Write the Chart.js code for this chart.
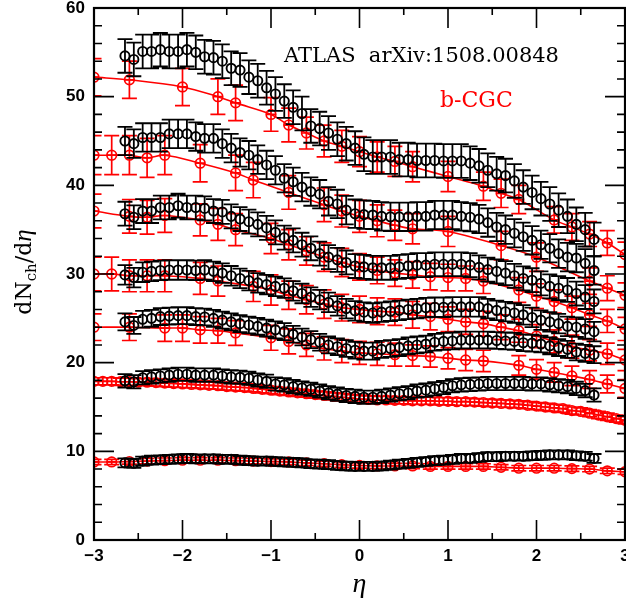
<!DOCTYPE html>
<html><head><meta charset="utf-8">
<script src="https://cdn.jsdelivr.net/npm/chart.js@4/dist/chart.umd.min.js"></script>
<style>html,body{margin:0;padding:0;background:#fff}#wrap{width:626px;height:605px}</style>
</head><body><div id="wrap"><canvas id="c" width="626" height="605"></canvas></div>
<script>
// ---------- DATA ----------
const xTickLabels = [-3, -2, -1, 0, 1, 2, 3];
const yTickLabels = [0, 10, 20, 30, 40, 50, 60];

// ATLAS measurement: pseudorapidity bin centres
const etaATLAS = [-2.65,-2.55,-2.45,-2.35,-2.25,-2.15,-2.05,-1.95,-1.85,-1.75,-1.65,-1.55,-1.45,-1.35,-1.25,-1.15,-1.05,-0.95,-0.85,-0.75,-0.65,-0.55,-0.45,-0.35,-0.25,-0.15,-0.05,
  0.05,0.15,0.25,0.35,0.45,0.55,0.65,0.75,0.85,0.95,1.05,1.15,1.25,1.35,1.45,1.55,1.65,1.75,1.85,1.95,2.05,2.15,2.25,2.35,2.45,2.55,2.65];

const atlas1 = [54.6,54.2,55.1,55.1,55.3,55.1,55.1,55.3,55.0,54.5,54.4,54.0,53.2,53.0,52.2,51.8,51.0,50.3,49.5,48.8,48.1,46.7,46.4,45.9,45.2,44.7,44.2,
  43.5,43.2,43.2,43.2,42.9,42.9,42.8,42.8,42.8,42.75,42.75,42.75,42.5,42.2,41.7,41.3,41.1,40.5,39.8,39.2,38.5,37.9,37.2,36.5,35.6,35.0,33.9];
const atlas2 = [45.0,44.7,45.4,45.4,45.4,45.8,45.8,45.8,45.5,45.3,45.3,44.7,44.2,43.7,43.4,42.9,42.3,41.7,40.8,40.4,39.8,39.3,39.0,38.2,37.9,37.2,36.8,
  36.7,36.65,36.5,36.45,36.45,36.45,36.5,36.5,36.65,36.65,36.65,36.5,36.4,36.2,35.8,35.3,35.0,34.6,34.2,33.8,33.3,32.9,32.3,31.9,31.8,31.2,30.4];
const atlas3 = [36.8,36.4,37.1,37.1,37.5,37.5,37.7,37.5,37.5,37.4,37.1,37.0,36.5,36.2,35.9,35.6,35.2,34.7,34.1,33.8,33.3,32.9,32.3,31.9,31.6,31.3,30.9,
  30.8,30.7,30.7,30.7,30.8,30.9,31.0,31.0,31.1,31.1,31.1,31.1,31.0,30.75,30.5,30.3,30.1,29.8,29.5,29.3,28.95,28.6,28.4,28.2,27.8,27.4,26.9];
const atlas4 = [29.9,29.6,30.2,30.3,30.4,30.45,30.45,30.45,30.4,30.45,30.3,30.1,29.8,29.5,29.25,29.0,28.8,28.6,28.4,28.1,27.8,27.4,27.1,26.8,26.4,26.1,25.85,
  25.7,25.6,25.7,25.8,25.9,26.0,26.1,26.2,26.25,26.25,26.3,26.3,26.3,26.3,26.1,25.9,25.75,25.6,25.4,25.1,24.8,24.6,24.4,24.1,24.0,23.8,23.5];
const atlas5 = [24.6,24.2,24.9,25.0,25.2,25.25,25.3,25.3,25.2,25.15,25.0,24.8,24.6,24.4,24.25,24.1,23.9,23.7,23.5,23.2,22.9,22.6,22.3,22.0,21.8,21.6,21.4,
  21.3,21.3,21.5,21.6,21.7,21.9,22.0,22.1,22.3,22.4,22.45,22.55,22.55,22.55,22.55,22.5,22.45,22.4,22.25,22.2,22.1,21.9,21.7,21.5,21.2,21.05,20.9];
const atlas6 = [17.95,17.85,18.3,18.4,18.5,18.6,18.7,18.7,18.6,18.6,18.6,18.5,18.4,18.35,18.25,18.05,17.9,17.6,17.5,17.3,17.15,17.0,16.8,16.6,16.45,16.3,16.2,
  16.1,16.1,16.2,16.35,16.5,16.6,16.8,16.9,17.05,17.2,17.4,17.5,17.55,17.6,17.65,17.65,17.65,17.65,17.65,17.6,17.6,17.5,17.4,17.3,17.1,16.85,16.35];
const atlas7 = [8.7,8.65,8.9,9.0,9.05,9.1,9.15,9.2,9.15,9.15,9.15,9.1,9.1,9.0,8.95,8.9,8.9,8.85,8.8,8.75,8.7,8.6,8.55,8.5,8.4,8.35,8.3,
  8.3,8.3,8.35,8.45,8.55,8.65,8.75,8.85,8.95,9.0,9.1,9.2,9.2,9.3,9.4,9.4,9.45,9.45,9.45,9.5,9.55,9.6,9.6,9.6,9.5,9.45,9.2];
// typical ATLAS uncertainty per set
const atlasErr = [1.9, 1.6, 1.35, 1.1, 0.95, 0.75, 0.5];

// b-CGC calculation: [eta, dNch/deta, uncertainty]
const cgc1 = [[-3.0,52.2,2.1],[-2.6,51.9,2.1],[-2.0,51.1,2.1],[-1.6,50.0,2.0],[-1.4,49.3,2.0],[-1.0,48.0,1.9],[-0.8,46.8,1.9],[-0.6,45.9,1.8],[-0.4,45.0,1.8],[-0.2,44.4,1.8],[0.0,43.8,1.7],[0.2,43.2,1.7],[0.4,42.7,1.7],[0.6,42.1,1.7],[1.0,41.0,1.7],[1.4,39.9,1.6],[1.6,39.1,1.6],[1.8,38.4,1.6],[2.2,36.1,1.5],[2.4,35.3,1.5],[2.6,34.5,1.4],[2.8,33.5,1.4],[3.0,32.2,1.4]];
const cgc2 = [[-3.0,43.4,2.2],[-2.8,43.4,2.2],[-2.6,43.4,2.2],[-2.4,43.1,2.2],[-2.2,43.4,2.2],[-1.8,42.5,2.1],[-1.4,41.4,2.0],[-1.2,40.6,2.0],[-0.8,39.2,1.9],[-0.4,37.8,1.9],[-0.2,37.1,1.8],[0.0,36.5,1.8],[0.2,36.0,1.8],[0.4,35.5,1.7],[0.6,35.1,1.7],[1.0,34.8,1.7],[1.6,33.2,1.6],[2.0,31.9,1.6],[2.6,29.2,1.5],[2.8,28.4,1.4],[3.0,27.6,1.4]];
const cgc3 = [[-3.0,37.1,1.9],[-2.6,36.5,1.9],[-2.4,36.4,1.9],[-2.2,36.6,1.9],[-1.8,36.1,1.8],[-1.6,35.6,1.8],[-1.4,35.0,1.8],[-1.0,34.0,1.7],[-0.8,33.3,1.7],[-0.6,32.6,1.6],[-0.4,31.9,1.6],[-0.2,31.3,1.6],[0.0,30.8,1.5],[0.2,30.4,1.5],[0.4,30.1,1.5],[0.6,29.9,1.5],[0.8,29.7,1.5],[1.0,29.6,1.5],[1.2,29.5,1.4],[1.4,29.2,1.4],[1.8,28.2,1.4],[2.0,27.5,1.4],[2.2,26.9,1.3],[2.4,26.2,1.3],[2.6,25.4,1.3],[2.8,24.7,1.3],[3.0,23.8,1.3]];
const cgc4 = [[-3.0,30.0,1.9],[-2.8,30.0,1.9],[-2.6,29.8,1.8],[-2.4,29.8,1.8],[-2.2,29.8,1.8],[-1.8,29.5,1.8],[-1.6,29.2,1.7],[-1.2,28.6,1.7],[-1.0,28.2,1.7],[-0.8,27.6,1.6],[-0.6,27.1,1.6],[-0.4,26.6,1.6],[-0.2,26.2,1.5],[0.0,26.0,1.5],[0.2,25.8,1.5],[0.4,25.7,1.5],[0.6,25.4,1.5],[0.8,25.2,1.5],[1.0,24.9,1.4],[1.2,24.6,1.4],[1.4,24.4,1.4],[1.6,24.0,1.4],[1.8,23.6,1.3],[2.0,23.0,1.3],[2.2,22.4,1.3],[2.4,21.8,1.3],[2.6,21.4,1.2],[2.8,21.0,1.2],[3.0,20.3,1.2]];
const cgc5 = [[-3.0,24.0,1.5],[-2.6,24.0,1.5],[-2.2,23.9,1.5],[-2.0,23.9,1.5],[-1.8,23.7,1.5],[-1.6,23.6,1.4],[-1.4,23.35,1.4],[-1.0,22.8,1.4],[-0.8,22.4,1.4],[-0.6,22.0,1.3],[-0.4,21.6,1.3],[-0.2,21.3,1.3],[0.0,21.1,1.3],[0.2,21.0,1.3],[0.4,20.9,1.3],[0.6,20.8,1.2],[0.8,20.7,1.2],[1.0,20.5,1.2],[1.2,20.3,1.2],[1.4,20.2,1.2],[1.8,19.7,1.1],[2.0,19.25,1.1],[2.2,18.9,1.1],[2.4,18.5,1.1],[2.6,18.1,1.0],[2.8,17.6,1.0],[3.0,17.1,1.0]];
const etaCGC6 = [-3.0,-2.9,-2.8,-2.7,-2.6,-2.5,-2.4,-2.3,-2.2,-2.1,-2.0,-1.9,-1.8,-1.7,-1.6,-1.5,-1.4,-1.3,-1.2,-1.1,-1.0,-0.9,-0.8,-0.7,-0.6,-0.5,-0.4,-0.3,-0.2,-0.1,0.0,
  0.1,0.2,0.3,0.4,0.5,0.6,0.7,0.8,0.9,1.0,1.1,1.2,1.3,1.4,1.5,1.6,1.7,1.8,1.9,2.0,2.1,2.2,2.3,2.4,2.5,2.6,2.7,2.8,2.9,3.0];
const cgc6 = [17.9,17.9,17.9,17.85,17.85,17.8,17.8,17.75,17.7,17.65,17.6,17.55,17.5,17.45,17.4,17.3,17.25,17.2,17.1,17.0,16.9,
  16.8,16.7,16.6,16.5,16.4,16.3,16.2,16.1,16.0,15.9,15.85,15.8,15.8,15.75,15.75,15.7,15.7,15.7,15.65,15.65,
  15.6,15.6,15.55,15.5,15.45,15.4,15.35,15.3,15.2,15.1,15.0,14.9,14.8,14.6,14.5,14.3,14.1,13.9,13.7,13.5];
const cgc6Err = 0.4;
const etaCGC7 = [-3.0,-2.8,-2.6,-2.4,-2.2,-2.0,-1.8,-1.6,-1.4,-1.2,-1.0,-0.8,-0.6,-0.4,-0.2,0.0,0.2,0.4,0.6,0.8,1.0,1.2,1.4,1.6,1.8,2.0,2.2,2.4,2.6,2.8,3.0];
const cgc7 = [8.8,8.8,8.85,8.9,8.95,9.0,9.0,9.0,8.95,8.9,8.85,8.8,8.7,8.6,8.5,8.4,8.35,8.35,8.35,8.3,8.3,8.3,8.3,8.2,8.1,8.1,8.1,8.05,8.0,7.8,7.7];
const cgc7Err = 0.3;

// ---------- BUILD DATASETS ----------
const BLACK = '#000000', RED = '#ff0000';
const atlasSets = [atlas1, atlas2, atlas3, atlas4, atlas5, atlas6, atlas7];
const datasets = [];
atlasSets.forEach((vals, k) => {
  datasets.push({
    label: 'ATLAS ' + (k + 1),
    data: vals.map((v, i) => ({x: etaATLAS[i], y: v})),
    errs: vals.map(() => atlasErr[k]),
    showLine: false,
    pointRadius: 4.6, pointBorderWidth: 1.9,
    pointBorderColor: BLACK, pointBackgroundColor: 'rgba(0,0,0,0)',
    borderColor: BLACK, capHalf: 7.5, errWidth: 1.8, clip: 0
  });
});
const cgcTriples = [cgc1, cgc2, cgc3, cgc4, cgc5];
const cgcSets = cgcTriples.map(t => ({pts: t.map(p => ({x: p[0], y: p[1]})), errs: t.map(p => p[2])}));
cgcSets.push({pts: cgc6.map((v, i) => ({x: etaCGC6[i], y: v})), errs: cgc6.map(() => cgc6Err)});
cgcSets.push({pts: cgc7.map((v, i) => ({x: etaCGC7[i], y: v})), errs: cgc7.map(() => cgc7Err)});
cgcSets.forEach((s, k) => {
  datasets.push({
    label: 'b-CGC ' + (k + 1),
    data: s.pts, errs: s.errs,
    showLine: true, tension: 0.35, borderWidth: 1.6, borderColor: RED,
    pointRadius: 4.8, pointBorderWidth: 1.7,
    pointBorderColor: RED, pointBackgroundColor: 'rgba(0,0,0,0)',
    capHalf: 7.5, errWidth: 1.7, crossHalf: 4.8, clip: 0
  });
});

// ---------- PLUGINS ----------
const errorBars = {
  id: 'errorBars',
  afterDatasetDraw(chart, args) {
    const ds = chart.data.datasets[args.index];
    if (!ds.errs) return;
    const ctx = chart.ctx, ys = chart.scales.y, a = chart.chartArea;
    ctx.save();
    ctx.beginPath(); ctx.rect(a.left, a.top, a.right - a.left, a.bottom - a.top); ctx.clip();
    ctx.strokeStyle = ds.borderColor; ctx.lineWidth = ds.errWidth;
    ctx.beginPath();
    args.meta.data.forEach((el, i) => {
      const v = ds.data[i].y, e = ds.errs[i];
      const y1 = ys.getPixelForValue(v + e), y2 = ys.getPixelForValue(v - e);
      const x = el.x, h = ds.capHalf;
      ctx.moveTo(x, y1); ctx.lineTo(x, y2);
      ctx.moveTo(x - h, y1); ctx.lineTo(x + h, y1);
      ctx.moveTo(x - h, y2); ctx.lineTo(x + h, y2);
      if (ds.crossHalf) { ctx.moveTo(x - ds.crossHalf, el.y); ctx.lineTo(x + ds.crossHalf, el.y); }
    });
    ctx.stroke();
    ctx.restore();
  }
};

const frameAndText = {
  id: 'frameAndText',
  afterDraw(chart) {
    const ctx = chart.ctx, a = chart.chartArea, xs = chart.scales.x, ys = chart.scales.y;
    ctx.save();
    ctx.strokeStyle = '#000'; ctx.lineWidth = 2.2;
    ctx.strokeRect(a.left, a.top, a.right - a.left, a.bottom - a.top);
    ctx.lineWidth = 1.6;
    ctx.beginPath();
    for (let i = 0; i <= 12; i++) {
      const v = -3 + i * 0.5, px = xs.getPixelForValue(v), len = (i % 2 === 0) ? 20 : 7;
      ctx.moveTo(px, a.bottom); ctx.lineTo(px, a.bottom - len);
      ctx.moveTo(px, a.top); ctx.lineTo(px, a.top + len);
    }
    for (let i = 0; i <= 30; i++) {
      const v = i * 2, py = ys.getPixelForValue(v), len = (v % 10 === 0) ? 20 : 8;
      ctx.moveTo(a.left, py); ctx.lineTo(a.left + len, py);
      ctx.moveTo(a.right, py); ctx.lineTo(a.right - len, py);
    }
    ctx.stroke();

    // annotations
    ctx.fillStyle = '#000';
    ctx.font = '21px "DejaVu Serif"';
    ctx.textBaseline = 'alphabetic'; ctx.textAlign = 'left';
    ctx.fillText('ATLAS  arXiv:1508.00848', 284, 62);
    ctx.fillStyle = RED;
    ctx.font = '22px "DejaVu Serif"';
    ctx.fillText('b-CGC', 440, 107);

    // x axis title
    ctx.fillStyle = '#000';
    ctx.font = 'italic 28px "Liberation Serif"';
    ctx.textAlign = 'center';
    ctx.fillText('\u03b7', (a.left + a.right) / 2, 592);

    // y axis title  dN_ch/dη
    ctx.save();
    ctx.translate(31, 272);
    ctx.rotate(-Math.PI / 2);
    ctx.textAlign = 'left';
    const parts = [
      {t: 'dN', f: '22px "DejaVu Serif"', dy: 0},
      {t: 'ch', f: '15px "DejaVu Serif"', dy: 5},
      {t: '/d', f: '22px "DejaVu Serif"', dy: 0},
      {t: '\u03b7', f: 'italic 25px "Liberation Serif"', dy: 0}
    ];
    let total = 0;
    parts.forEach(p => { ctx.font = p.f; p.w = ctx.measureText(p.t).width; total += p.w; });
    let cx = -total / 2;
    parts.forEach(p => { ctx.font = p.f; ctx.fillText(p.t, cx, p.dy); cx += p.w; });
    ctx.restore();
    ctx.restore();
  }
};

const tickFont = {family: '"Liberation Sans", Arial, sans-serif', size: 17, weight: 'bold'};
const fmt = v => (v < 0 ? '\u2212' + Math.abs(v) : String(v));

new Chart(document.getElementById('c'), {
  type: 'scatter',
  data: {datasets},
  options: {
    responsive: false, animation: false, devicePixelRatio: 1, events: [],
    layout: {autoPadding: false, padding: {top: 8, right: 1, left: 0, bottom: 0}},
    plugins: {legend: {display: false}, tooltip: {enabled: false}},
    scales: {
      x: {
        type: 'linear', min: xTickLabels[0], max: xTickLabels[xTickLabels.length - 1],
        afterBuildTicks: s => { s.ticks = xTickLabels.map(v => ({value: v})); },
        ticks: {font: tickFont, color: '#000', padding: 6, maxRotation: 0, autoSkip: false, callback: fmt},
        grid: {display: false, drawTicks: false}, border: {display: false},
        afterFit: s => { s.height = 65; s.paddingLeft = 0; s.paddingRight = 0; }
      },
      y: {
        type: 'linear', min: yTickLabels[0], max: yTickLabels[yTickLabels.length - 1],
        afterBuildTicks: s => { s.ticks = yTickLabels.map(v => ({value: v})); },
        ticks: {font: tickFont, color: '#000', padding: 9, autoSkip: false, callback: fmt},
        grid: {display: false, drawTicks: false}, border: {display: false},
        afterFit: s => { s.width = 94; s.paddingTop = 0; s.paddingBottom = 0; }
      }
    }
  },
  plugins: [errorBars, frameAndText]
});
</script>
</body></html>
